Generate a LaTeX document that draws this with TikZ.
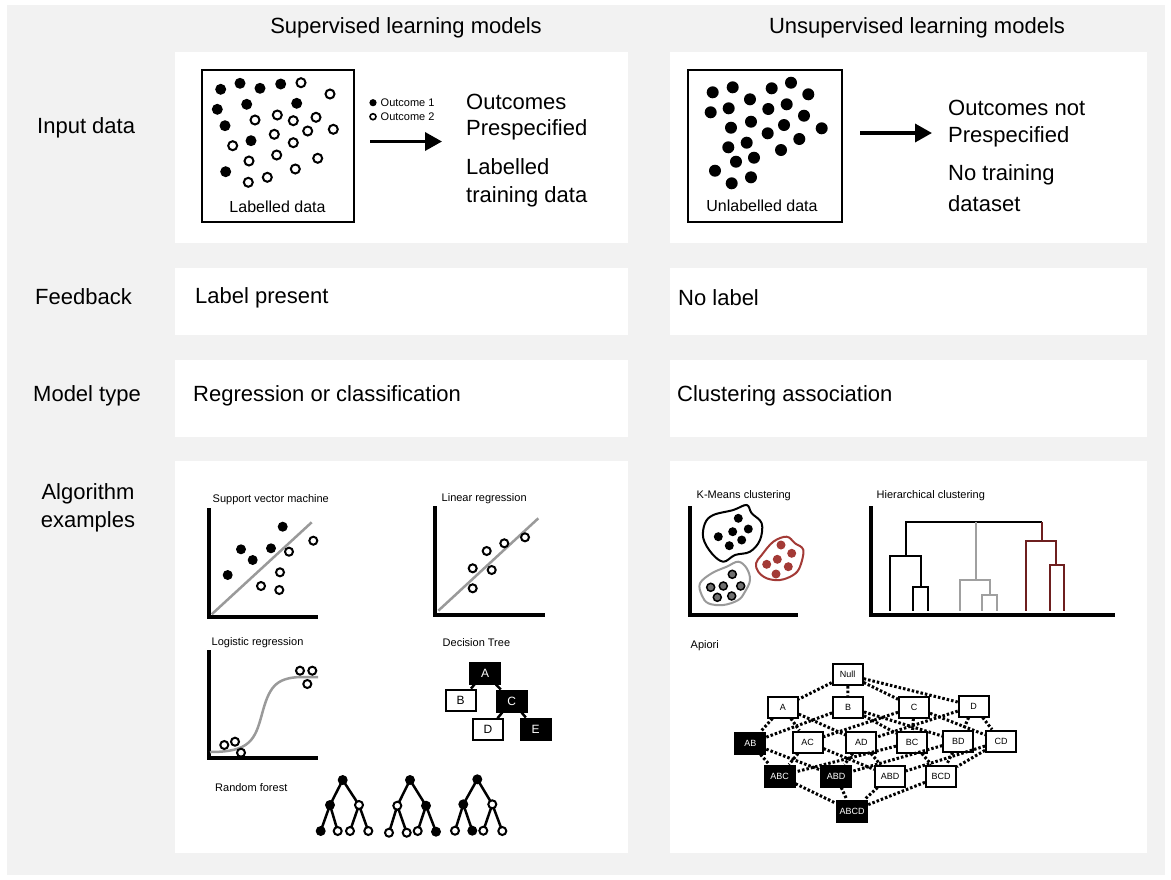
\documentclass[tikz,border=0pt]{standalone}
\usepackage{fontspec}
\setmainfont{Liberation Sans}
\usetikzlibrary{arrows.meta}
\definecolor{bg}{HTML}{F2F2F2}
\definecolor{kred}{HTML}{A33A36}
\definecolor{dred}{HTML}{6E1F1F}
\definecolor{hgray}{HTML}{A0A0A0}
\definecolor{lgray}{HTML}{9A9A9A}
\definecolor{dgray}{HTML}{707070}
\begin{document}
\begin{tikzpicture}[x=1pt,y=-1pt,
  panel/.style={fill=white,draw=none},
  big/.style={font=\fontsize{22}{26}\selectfont,inner sep=0pt,anchor=west},
  head/.style={font=\fontsize{22}{26}\selectfont,inner sep=0pt},
  small/.style={font=\fontsize{11}{13}\selectfont,inner sep=0pt,anchor=west},
  axis/.style={line width=4pt},
  opendot/.style={draw=black,line width=2pt,fill=white},
  dtbox/.style={draw=black,line width=2pt,minimum width=30pt,minimum height=21pt,inner sep=0pt,font=\fontsize{12}{14}\selectfont},
  apbox/.style={draw=black,line width=2pt,minimum width=30pt,minimum height=21pt,inner sep=0pt,font=\fontsize{9}{11}\selectfont},
  blk/.style={fill=black,text=white},
  dotted edge/.style={line width=3pt,dash pattern=on 2.5pt off 2pt},
  treeedge/.style={line width=2.5pt},
  dend/.style={line width=2pt}
]
\useasboundingbox (0,0) rectangle (1171,879);
\fill[white] (0,0) rectangle (1171,879);
\fill[bg] (7,5) rectangle (1165,875);

% panels
\fill[panel] (175,52) rectangle (628,243);
\fill[panel] (670,52) rectangle (1147,243);
\fill[panel] (175,268) rectangle (628,335);
\fill[panel] (670,268) rectangle (1147,335);
\fill[panel] (175,360) rectangle (628,437);
\fill[panel] (670,360) rectangle (1147,437);
\fill[panel] (175,461) rectangle (628,853);
\fill[panel] (670,461) rectangle (1147,853);

% headers
\node[head] (hsup) at (406,28) {Supervised learning models};
\node[head] (hunsup) at (917,28) {Unsupervised learning models};

% row labels
\node[big] (rinput) at (37,128) {Input data};
\node[big] (rfeed) at (35,297) {Feedback};
\node[big] (rmodel) at (33,396) {Model type};
\node[head,align=center,font=\fontsize{22}{28}\selectfont] (ralg) at (88,508) {Algorithm\\examples};

% feedback / model texts
\node[big] (fl) at (195,298) {Label present};
\node[big] (fr) at (678,298) {No label};
\node[big] (ml) at (193,396) {Regression or classification};
\node[big] (mr) at (677,396) {Clustering association};

% ---------- Input data, supervised ----------
\draw[line width=2pt] (201.5,70) rectangle (353.5,222);
\foreach \p in {(220.7,89.3),(240,83.3),(260,88.3),(280.7,84),(217.3,109.3),(246.7,104.3),(296.7,103.3),(225,125.7),(251,140.7),(225.7,171.7)}
  \fill \p circle[radius=5.5];
\foreach \p in {(301,82.7),(330,94),(255,120),(277.3,115),(293.3,120.7),(316,117.3),(274.3,134.3),(307.7,131),(333.3,129.3),(232.7,145.7),(293.3,142.7),(276.7,155),(317.7,158.3),(249,161),(295.3,169),(267.3,177.3),(248.3,182.3)}
  \draw[opendot] \p circle[radius=4.5];
\node[font=\fontsize{16}{18}\selectfont,inner sep=0pt] (ldata) at (277.5,207) {Labelled data};
\fill (373,102.7) circle[radius=3.6];
\draw[line width=1.6pt] (373,116.7) circle[radius=3];
\node[small] (o1) at (380.5,102.7) {Outcome 1};
\node[small] (o2) at (380.5,116.7) {Outcome 2};
\coordinate (a1s) at (370,141.5);
\coordinate (a1e) at (442,141.5);
\draw[line width=3.5pt,-{Triangle[length=17pt,width=18pt]}] (a1s) -- (a1e);
\node[big] (t1) at (466,101.5) {Outcomes};
\node[big] (t2) at (466,130) {Prespecified};
\node[big] (t3) at (466,167) {Labelled};
\node[big] (t4) at (466,196.5) {training data};

% ---------- Input data, unsupervised ----------
\draw[line width=2pt] (688,70) rectangle (842,222);
\foreach \p in {(712.7,92.3),(732.7,87.3),(771.7,88.3),(791,82.7),(808.3,94.3),(710.7,112.3),(728.7,108.3),(750,99.3),(768.3,109),(786.7,104.3),(804,115.7),(731,127.7),(751,121.7),(784,125),(821.7,128.3),(767.7,133.3),(799.3,139),(728.3,147.3),(746.7,142.7),(781,150),(736,161.7),(754,157.7),(715,170.7),(731.7,183.3),(751,177.3)}
  \fill \p circle[radius=6];
\node[font=\fontsize{16}{18}\selectfont,inner sep=0pt] (udata) at (762,206) {Unlabelled data};
\coordinate (a2s) at (860,133);
\coordinate (a2e) at (932,133);
\draw[line width=3.5pt,-{Triangle[length=17pt,width=18pt]}] (a2s) -- (a2e);
\node[big] (u1) at (948,108) {Outcomes not};
\node[big] (u2) at (948,137) {Prespecified};
\node[big] (u3) at (948,175) {No training};
\node[big] (u4) at (948,204) {dataset};

% ---------- SVM ----------
\node[small] (tsvm) at (212.5,500) {Support vector machine};
\draw[axis] (209,508) -- (209,616.7) -- (317.7,616.7);
\draw[lgray,line width=2.5pt] (211.7,614.3) -- (311.7,522.3);
\foreach \p in {(282.7,526.7),(241,549.3),(271,548.3),(252.7,560),(227.7,575)}
  \fill \p circle[radius=5];
\foreach \p in {(313.3,540.7),(289,551.7),(280,572.3),(261,586),(279.3,590)}
  \draw[opendot] \p circle[radius=4];

% ---------- Linear regression ----------
\node[small] (tlin) at (441.5,498.3) {Linear regression};
\draw[axis] (435,506) -- (435,615) -- (545,615);
\draw[lgray,line width=2.5pt] (438.3,610.7) -- (538.3,518.3);
\foreach \p in {(525,537.3),(504.3,543.3),(486.7,551),(472.7,568.3),(491.7,570),(472.7,588.3)}
  \draw[opendot] \p circle[radius=4];

% ---------- Logistic regression ----------
\node[small] (tlog) at (211.5,642.7) {Logistic regression};
\draw[axis] (209,650) -- (209,757.7) -- (318,757.7);
\draw[lgray,line width=2.5pt] (210,752) .. controls (250,752) and (255,740) .. (262,714) .. controls (269,688) and (275,678) .. (300,677) -- (318,677);
\foreach \p in {(300,670.7),(312.3,670.7),(307.3,684),(224.3,745),(235,741.7),(241,752.7)}
  \draw[opendot] \p circle[radius=4];

% ---------- Decision tree ----------
\node[small] (tdt) at (442.5,642.7) {Decision Tree};
\node[dtbox,blk] (dA) at (485,673) {A};
\node[dtbox] (dB) at (460.5,700) {B};
\node[dtbox,blk] (dC) at (511.7,701) {C};
\node[dtbox] (dD) at (488,729.7) {D};
\node[dtbox,blk] (dE) at (535.7,729) {E};
\draw[line width=2.5pt] (dA) -- (dB);
\draw[line width=2.5pt] (dA) -- (dC);
\draw[line width=2.5pt] (dC) -- (dD);
\draw[line width=2.5pt] (dC) -- (dE);

% ---------- Random forest ----------
\node[small] (trf) at (215,787.3) {Random forest};
\coordinate (r1) at (342.7,780); \coordinate (c1a) at (330,805); \coordinate (c1b) at (359,805);
\coordinate (l1a) at (320.7,831); \coordinate (l1b) at (337.7,831); \coordinate (l1c) at (350,831); \coordinate (l1d) at (368.3,831);
\coordinate (r2) at (410,780); \coordinate (c2a) at (397.3,805.7); \coordinate (c2b) at (426,805.7);
\coordinate (l2a) at (389,832.7); \coordinate (l2b) at (406.7,832.7); \coordinate (l2c) at (417.7,831); \coordinate (l2d) at (436,831.7);
\coordinate (r3) at (477.3,779.3); \coordinate (c3a) at (463.3,804.3); \coordinate (c3b) at (492.3,804.3);
\coordinate (l3a) at (455,830.7); \coordinate (l3b) at (472.3,830.7); \coordinate (l3c) at (483.3,830.7); \coordinate (l3d) at (502.3,831);
\foreach \t in {1,2,3}{
  \draw[treeedge] (c\t a) -- (r\t) -- (c\t b);
  \draw[treeedge] (l\t a) -- (c\t a) -- (l\t b);
  \draw[treeedge] (l\t c) -- (c\t b) -- (l\t d);
}
\foreach \c in {r1,c1a,l1a,r2,c2b,l2d,r3,c3a,l3b}
  \fill (\c) circle[radius=5];
\foreach \c in {c1b,l1b,l1c,l1d,c2a,l2a,l2b,l2c,c3b,l3a,l3c,l3d}
  \draw[opendot] (\c) circle[radius=4];

% ---------- K-means ----------
\node[small] (tkm) at (696.5,496) {K-Means clustering};
\draw[line width=3.5pt] (690,506) -- (690,615) -- (798.3,615);
\draw[line width=2pt] plot[smooth cycle,tension=0.6] coordinates {(713.3,515) (733.3,510) (746.7,505) (751.7,513.3) (761.7,523.3) (760,540) (750,551.7) (735,555) (723.3,561.7) (711.7,553.3) (703.3,538.3) (705,523.3)};
\foreach \p in {(738.3,518.3),(732.7,531.7),(748.3,529),(718.3,536.7),(741.7,540),(729.3,545.7)}
  \fill \p circle[radius=4.5];
\draw[kred,line width=2pt] plot[smooth cycle,tension=0.6] coordinates {(761.7,555) (773.3,541.7) (786.7,536.7) (795,543.3) (803.3,550) (800,566.7) (793.3,575) (780,580) (766.7,578.3) (758.3,571.7) (756,563.3)};
\foreach \p in {(781,545),(791.7,553.3),(766.7,564.3),(777.3,559.3),(788.3,566.7),(776,574)}
  \fill[kred] \p circle[radius=4.5];
\draw[lgray,line width=2pt] plot[smooth cycle,tension=0.6] coordinates {(700,583.3) (711.7,573.3) (726.7,566.7) (738.3,561.7) (746.7,568.3) (750,580) (745,591.7) (738.3,600) (723.3,605) (708.3,603.3) (701.7,595)};
\foreach \p in {(732.3,574.3),(710.7,587.3),(723.3,586),(740.7,586),(717.3,597.3),(731.7,596)}
  \draw[fill=dgray,draw=black,line width=1.5pt] \p circle[radius=4];

% ---------- Hierarchical ----------
\node[small] (thc) at (876.5,496) {Hierarchical clustering};
\draw[line width=3.5pt] (871,506) -- (871,615) -- (1115,615);
\draw[dend] (905.7,555.7) -- (905.7,522.3) -- (1041.7,522.3);
\draw[dend] (890,610.7) -- (890,555.7) -- (920.7,555.7) -- (920.7,587.3);
\draw[dend] (912.7,610.7) -- (912.7,587.3) -- (928.3,587.3) -- (928.3,610.7);
\draw[dend,hgray] (975.7,522.3) -- (975.7,580);
\draw[dend,hgray] (960,610.7) -- (960,580) -- (990,580) -- (990,595);
\draw[dend,hgray] (982.3,610.7) -- (982.3,595) -- (996.7,595) -- (996.7,610.7);
\draw[dend,dred] (1041.7,522.3) -- (1041.7,541);
\draw[dend,dred] (1025.7,610.7) -- (1025.7,541) -- (1055.7,541) -- (1055.7,565);
\draw[dend,dred] (1050,610.7) -- (1050,565) -- (1064,565) -- (1064,610.7);

% ---------- Apriori ----------
\node[small] (tap) at (690.5,646) {Apiori};
\node[apbox] (nNull) at (847.7,674.7) {Null};
\node[apbox] (nA) at (782.8,707) {A};
\node[apbox] (nB) at (848,707) {B};
\node[apbox] (nC) at (914,707) {C};
\node[apbox] (nD) at (973.7,706) {D};
\node[apbox,blk] (nAB) at (750.3,743) {AB};
\node[apbox] (nAC) at (807.5,742) {AC};
\node[apbox] (nAD) at (861.3,742) {AD};
\node[apbox] (nBC) at (912,742) {BC};
\node[apbox] (nBD) at (958.3,741) {BD};
\node[apbox] (nCD) at (1001,741) {CD};
\node[apbox,blk] (nABC) at (779.5,776) {ABC};
\node[apbox,blk] (nABD) at (836,776) {ABD};
\node[apbox] (nACD) at (890,776) {ABD};
\node[apbox] (nBCD) at (941,776) {BCD};
\node[apbox,blk] (nABCD) at (852,811) {ABCD};
\foreach \a/\b in {Null/A,Null/B,Null/C,Null/D,
  A/AB,A/AC,A/AD,B/AB,B/BC,B/BD,C/AC,C/BC,C/CD,D/AD,D/BD,D/CD,
  AB/ABC,AB/ABD,AC/ABC,AC/ACD,AD/ABD,AD/ACD,BC/ABC,BC/BCD,BD/ABD,BD/BCD,CD/ACD,CD/BCD,
  ABC/ABCD,ABD/ABCD,ACD/ABCD,BCD/ABCD}
  \draw[dotted edge] (n\a) -- (n\b);
\end{tikzpicture}
\end{document}
